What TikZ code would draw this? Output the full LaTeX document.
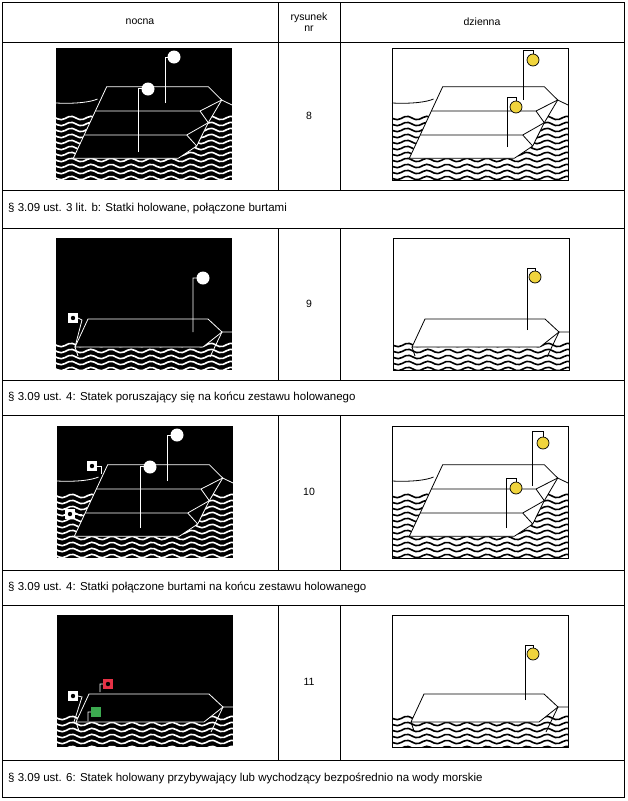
\documentclass[tikz,border=0pt]{standalone}
\usepackage{fontspec}
\setmainfont{Liberation Sans}
\definecolor{ball}{RGB}{240,212,60}
\definecolor{lred}{RGB}{230,50,70}
\definecolor{lgreen}{RGB}{60,170,80}
\newcommand\wavesP[2]{%
 \begin{scope}\clip (0,0) rectangle (176,132);
 \foreach \k in {0,...,12}{\pgfmathsetmacro\yy{#2+6*\k}
  \draw[#1,line width=1.6] plot[domain=-2:178,samples=50,smooth] (\x,{\yy+1.7*sin(\x*18)});}
 \end{scope}}
\newcommand\hullA[2]{%
 \filldraw[fill=#1,draw=#2,line width=.8] (50.7,38.7)--(152.3,38.7)--(165.7,52)--(152.3,74.7)--(140.7,98)--(122.3,110.3)--(17.3,110.3)--cycle;
 \draw[#2,line width=.8] (39.4,63)--(144,63)--(165.7,52) (144,63)--(152.3,74.7)--(130.7,87)--(28.2,87) (130.7,87)--(140.7,98)
   (0,55) .. controls (20,56) and (35,54) .. (41.5,51) (165.7,52) .. controls (170,55) .. (176,57);}
\newcommand\hullB[2]{%
 \filldraw[fill=#1,draw=#2,line width=.8] (32,81)--(152,81)--(166,94)--(147,109)--(19,109)--cycle;
 \draw[#2,line width=.8] (166,94)--(176,94) (166,94)--(154,119) (19,109)--(22,118);}
\tikzset{
 dl/.style={fill=ball,draw=black,line width=.7},
 tline/.style={line width=.8},
 captext/.style={anchor=west,font=\fontsize{11.5}{13}\selectfont,inner sep=0},
 hd/.style={font=\fontsize{10.5}{11}\selectfont,align=center}
}
\newcommand\sqlight[3]{\fill[#3] (#1-5,#2-5) rectangle (#1+5,#2+5); \fill[black] (#1,#2) circle (2.2);}
\begin{document}
\begin{tikzpicture}[x=1pt,y=-1pt]
\useasboundingbox (0,0) rectangle (628,801);
\fill[white] (0,0) rectangle (628,801);
\draw[tline] (2,2) rectangle (624,797);
\foreach \yy in {42,190,228,380,415,570,605,760} \draw[tline] (2,\yy)--(624,\yy);
\foreach \a/\b in {2/190,228/380,415/570,605/760} {\draw[tline] (278,\a)--(278,\b); \draw[tline] (340,\a)--(340,\b);}
\node[hd] (h1) at (140,22) {nocna};
\node[hd] (h2) at (309,22) {rysunek\\nr};
\node[hd] (h3) at (482,22) {dzienna};
\node[hd] (n8) at (309,116) {8};
\node[hd] (n9) at (309,304) {9};
\node[hd] (n10) at (309,492) {10};
\node[hd] (n11) at (309,682) {11};
\node[captext] (c1) at (8,209) {§ 3.09 ust. 3 lit. b: Statki holowane, połączone burtami};
\node[captext] (c2) at (8,397) {§ 3.09 ust. 4: Statek poruszający się na końcu zestawu holowanego};
\node[captext] (c3) at (8,587) {§ 3.09 ust. 4: Statki połączone burtami na końcu zestawu holowanego};
\node[captext] (c4) at (8,778) {§ 3.09 ust. 6: Statek holowany przybywający lub wychodzący bezpośrednio na wody morskie};
\begin{scope}[shift={(56,48)}]
 \fill[black] (0,0) rectangle (176,132);
 \wavesP{white}{70}
 \hullA{black}{white}
 \draw[white,line width=.8] (82,104)--(82,40)--(86,40) (109,55)--(109,9)--(112,9);
 \fill[white] (92,41) circle (6.5) (118,9) circle (6.5);
\end{scope}
\begin{scope}[shift={(392,48)}]
 \draw[line width=.8] (0,0) rectangle (176,132);
 \wavesP{black}{70}
 \hullA{white}{black}
 \draw[line width=.7] (131,52)--(131,2)--(141,2)--(141,6) (115,99)--(115,49)--(124,49)--(124,53);
 \path[dl] (141,12) circle (6) (124,59) circle (6);
\end{scope}
\begin{scope}[shift={(56,238)}]
 \fill[black] (0,0) rectangle (176,132);
 \wavesP{white}{107}
 \hullB{black}{white}
 \draw[white,line width=.8] (137,94)--(137,40)--(141,40) (22,80)--(26,82)--(19,109);
 \fill[white] (147,40) circle (6.5);
 \sqlight{17}{80}{white}
\end{scope}
\begin{scope}[shift={(393,238)}]
 \draw[line width=.8] (0,0) rectangle (176,132);
 \wavesP{black}{107}
 \hullB{white}{black}
 \draw[line width=.7] (134,92)--(134,30)--(142,30)--(142,33);
 \path[dl] (142,39) circle (6);
\end{scope}
\begin{scope}[shift={(57,426)}]
 \fill[black] (0,0) rectangle (176,132);
 \wavesP{white}{70}
 \hullA{black}{white}
 \draw[white,line width=.8] (83,102)--(83,40)--(87,40) (110,55)--(110,9)--(114,9)
   (40,40)--(44,40)--(44,48) (18,88)--(25,88);
 \fill[white] (93,41) circle (6.5) (120,9) circle (6.5);
 \sqlight{35}{40}{white}
 \sqlight{13}{88}{white}
\end{scope}
\begin{scope}[shift={(392,426)}]
 \draw[line width=.8] (0,0) rectangle (176,132);
 \wavesP{black}{70}
 \hullA{white}{black}
 \draw[line width=.7] (140,60)--(140,5)--(151,5)--(151,11) (114,102)--(114,52)--(124,52)--(124,56);
 \path[dl] (151,17) circle (6) (124,62) circle (6);
\end{scope}
\begin{scope}[shift={(57,615)}]
 \fill[black] (0,0) rectangle (176,132);
 \wavesP{white}{103}
 \begin{scope}[yshift=2pt]\hullB{black}{white}\end{scope}
 \draw[white,line width=.8] (21,81)--(25,82)--(17,107) (46,69)--(43,69)--(43,77) (34,97)--(31,97)--(31,106);
 \sqlight{16}{81}{white}
 \sqlight{51}{69}{lred}
 \fill[lgreen] (34,92) rectangle (44,102);
\end{scope}
\begin{scope}[shift={(392,615)}]
 \draw[line width=.8] (0,0) rectangle (176,132);
 \wavesP{black}{103}
 \begin{scope}[yshift=2pt]\hullB{white}{black}\end{scope}
 \draw[line width=.7] (133,85)--(133,30)--(141,30)--(141,33);
 \path[dl] (141,39) circle (6);
\end{scope}
\end{tikzpicture}
\end{document}
